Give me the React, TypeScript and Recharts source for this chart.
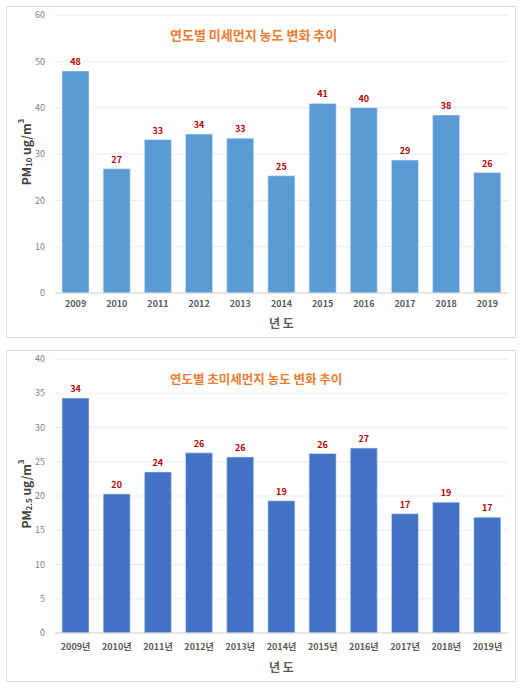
import { BarChart, Bar, XAxis, YAxis, CartesianGrid, LabelList, Label } from 'recharts'

const years = ['2009', '2010', '2011', '2012', '2013', '2014', '2015', '2016', '2017', '2018', '2019']
const pm10 = [47.9, 26.8, 33.1, 34.3, 33.4, 25.3, 40.9, 40.0, 28.7, 38.4, 26.0]
const pm25 = [34.3, 20.3, 23.5, 26.3, 25.7, 19.3, 26.2, 27.0, 17.4, 19.1, 16.9]
const pm10Ticks = [0, 10, 20, 30, 40, 50, 60]
const pm25Ticks = [0, 5, 10, 15, 20, 25, 30, 35, 40]

const font = '"Noto Sans CJK KR", "Noto Sans", sans-serif'

interface PanelProps {
  top: number
  title: string
  titleSize: number
  color: string
  values: number[]
  ticks: number[]
  yearSuffix: string
  sub: string
  xAxisHeight: number
  xTickMargin: number
}

function Panel({ top, title, titleSize, color, values, ticks, yearSuffix, sub, xAxisHeight, xTickMargin }: PanelProps) {
  const data = years.map((y, i) => ({ year: y + yearSuffix, value: values[i] }))
  const yLabel = (props: any) => {
    const vb = props.viewBox || {}
    const cx = 19
    const cy = (vb.y ?? 0) + (vb.height ?? 0) / 2 - 2
    return (
      <text
        x={cx}
        y={cy}
        transform={`rotate(-90, ${cx}, ${cy})`}
        textAnchor="middle"
        dominantBaseline="central"
        fontFamily={font}
        fontWeight={700}
        fontSize={12}
        fill="#404040"
      >
        PM
        <tspan fontSize={8} dy={3}>{sub}</tspan>
        <tspan dy={-3}> ug/m</tspan>
        <tspan fontSize={8} dy={-5}>3</tspan>
      </text>
    )
  }

  return (
    <div
      style={{
        position: 'absolute',
        left: 6,
        top,
        width: 510,
        height: 332,
        boxSizing: 'border-box',
        border: '1px solid #dedede',
        background: '#fff',
      }}
    >
      <div
        style={{
          position: 'absolute',
          left: 163,
          top: 18,
          fontFamily: font,
          fontWeight: 700,
          fontSize: titleSize,
          color: '#ED7D31',
          whiteSpace: 'nowrap',
          zIndex: 2,
        }}
      >
        {title}
      </div>
      <div style={{ position: 'absolute', left: -1, top: -1 }}>
        <BarChart
          width={510}
          height={332}
          data={data}
          margin={{ top: 9, right: 8, bottom: 0, left: 0 }}
          barCategoryGap="17%"
        >
          <CartesianGrid vertical={false} stroke="#ebebeb" />
          <XAxis
            dataKey="year"
            height={xAxisHeight}
            tickLine={false}
            axisLine={{ stroke: '#d9d9d9' }}
            tickMargin={xTickMargin}
            interval={0}
            tick={{ fontSize: 9, fontWeight: 700, fill: '#595959', fontFamily: font }}
          >
            <Label
              value="년 도"
              position="insideBottom"
              offset={10}
              style={{ fontSize: 12, fontWeight: 700, fill: '#595959', fontFamily: font }}
            />
          </XAxis>
          <YAxis
            width={49}
            domain={[ticks[0], ticks[ticks.length - 1]]}
            ticks={ticks}
            tickLine={false}
            axisLine={false}
            tickMargin={4}
            tick={{ fontSize: 9, fill: '#7f7f7f', fontFamily: font }}
            label={{ content: yLabel }}
          />
          <Bar dataKey="value" fill={color} stroke="#dbe6f4" strokeWidth={0.6} isAnimationActive={false}>
            <LabelList
              dataKey="value"
              position="top"
              offset={6}
              formatter={(v: any) => Math.round(Number(v))}
              style={{ fontSize: 9, fontWeight: 700, fill: '#C00000', fontFamily: font }}
            />
          </Bar>
        </BarChart>
      </div>
    </div>
  )
}

export default function App() {
  return (
    <div style={{ position: 'absolute', left: 0, top: 0, width: 527, height: 690, background: '#fff' }}>
      <Panel
        top={6}
        title="연도별 미세먼지 농도 변화 추이"
        titleSize={13}
        color="#5B9BD5"
        values={pm10}
        ticks={pm10Ticks}
        yearSuffix=""
        sub="10"
        xAxisHeight={45}
        xTickMargin={2}
      />
      <Panel
        top={350}
        title="연도별 초미세먼지 농도 변화 추이"
        titleSize={12.5}
        color="#4472C4"
        values={pm25}
        ticks={pm25Ticks}
        yearSuffix="년"
        sub="2.5"
        xAxisHeight={49}
        xTickMargin={5}
      />
    </div>
  )
}
